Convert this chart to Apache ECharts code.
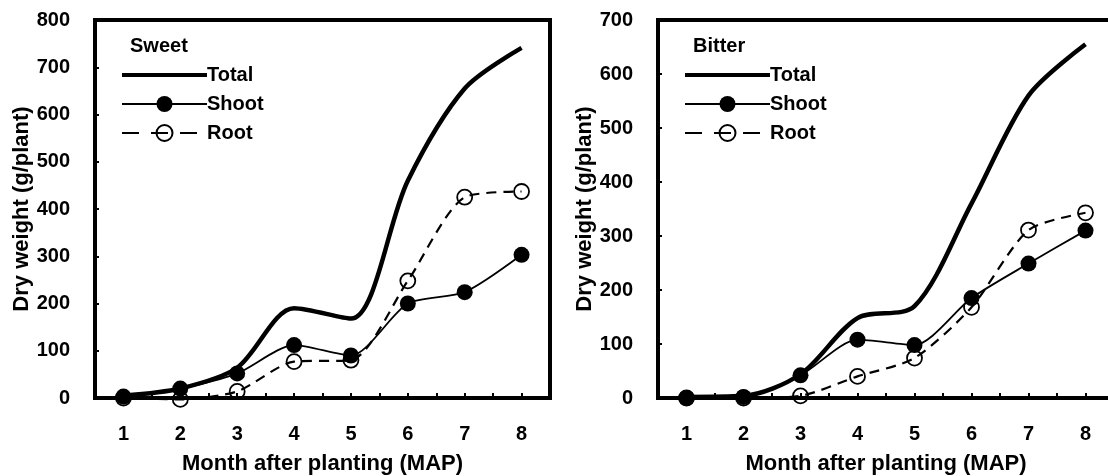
<!DOCTYPE html>
<html>
<head>
<meta charset="utf-8">
<script src="https://cdn.jsdelivr.net/npm/echarts@6/dist/echarts.min.js"></script>
<style>
    html, body { margin: 0; padding: 0; background: #fff; }
    #chart_div { width: 1108px; height: 476px; }
</style>
</head>
<body>
<div id="chart_div"></div>
<script>
// ----------- 数据 -----------
var month_list = [1, 2, 3, 4, 5, 6, 7, 8]
var series_names = ["Total", "Shoot", "Root"]

// Sweet
var sweet_total = [5, 20, 64, 190, 168, 460, 655, 741]
var sweet_shoot = [3, 20, 52, 112, 90, 200, 224, 303]
var sweet_root = [0, -3, 14, 77, 80, 248, 425, 437]

// Bitter
var bitter_total = [2, 4, 44, 148, 170, 360, 560, 655]
var bitter_shoot = [0, 2, 42, 108, 98, 185, 249, 310]
var bitter_root = [0, 0, 4, 40, 74, 168, 311, 343]

var font_name = "Liberation Sans, Arial, sans-serif"

function pair(values) {
    return values.map(function (v, i) { return [month_list[i], v] })
}

function make_x_axis(grid_index) {
    return {
        type: "value",
        gridIndex: grid_index,
        min: 0.5,
        max: 8.5,
        interval: 0.5,
        name: "Month after planting (MAP)",
        nameLocation: "middle",
        nameGap: 55,
        nameTextStyle: { fontFamily: font_name, fontWeight: "bold", fontSize: 22, color: "#000" },
        axisLine: { show: true, lineStyle: { color: "#000", width: 4 } },
        axisTick: { show: true, inside: true, length: 5, lineStyle: { color: "#000", width: 2 } },
        splitLine: { show: false },
        axisLabel: {
            margin: 26,
            fontFamily: font_name, fontWeight: "bold", fontSize: 20, color: "#000",
            showMinLabel: false, showMaxLabel: false,
            formatter: function (value) {
                if (value % 1 == 0) {
                    return value
                }
                return ""
            }
        }
    }
}

function make_y_axis(grid_index, max_value) {
    return {
        type: "value",
        gridIndex: grid_index,
        min: 0,
        max: max_value,
        interval: 100,
        name: "Dry weight (g/plant)",
        nameLocation: "middle",
        nameGap: 52,
        nameTextStyle: { fontFamily: font_name, fontWeight: "bold", fontSize: 22, color: "#000" },
        axisLine: { show: true, lineStyle: { color: "#000", width: 4 } },
        axisTick: { show: true, inside: true, length: 4, lineStyle: { color: "#000", width: 2 } },
        splitLine: { show: false },
        axisLabel: {
            margin: 25,
            fontFamily: font_name, fontWeight: "bold", fontSize: 20, color: "#000"
        }
    }
}

function make_series(index, total, shoot, root) {
    return [
        {
            name: "Total", type: "line", xAxisIndex: index, yAxisIndex: index,
            data: pair(total), smooth: 0.3, symbol: "none", z: 2, clip: false,
            lineStyle: { color: "#000", width: 4.5 },
            itemStyle: { color: "#000" }
        },
        {
            name: "Shoot", type: "line", xAxisIndex: index, yAxisIndex: index,
            data: pair(shoot), smooth: 0.25, symbol: "circle", symbolSize: 16, z: 4, clip: false,
            lineStyle: { color: "#000", width: 1.8 },
            itemStyle: { color: "#000" }
        },
        {
            name: "Root", type: "line", xAxisIndex: index, yAxisIndex: index,
            data: pair(root), smooth: 0.25, symbol: "circle", symbolSize: 15, z: 3, clip: false,
            lineStyle: { color: "#000", width: 2.2, type: [10, 7] },
            itemStyle: { color: "rgba(0,0,0,0)", borderColor: "#000", borderWidth: 1.8 }
        }
    ]
}

// 图例: 每项单独设置线宽
function make_legend(left_px) {
    return {
        orient: "vertical",
        left: left_px,
        top: 60,
        itemWidth: 85,
        itemHeight: 20,
        itemGap: 9,
        data: [
            { name: "Total", lineStyle: { color: "#000", width: 4 }, itemStyle: { color: "rgba(0,0,0,0)", borderWidth: 0 } },
            { name: "Shoot", lineStyle: { color: "#000", width: 2 } },
            { name: "Root", lineStyle: { color: "#000", width: 2.2, type: [17, 12] } }
        ],
        textStyle: { fontFamily: font_name, fontWeight: "bold", fontSize: 20, color: "#000", padding: [0, 0, 0, -5] },
        selectedMode: false
    }
}

var chart_div = echarts.init(document.getElementById("chart_div"), null, { renderer: "canvas" })

var option = {
    animation: false,
    backgroundColor: "#fff",
    title: [
        { text: "Sweet", left: 125, top: 31, textStyle: { fontFamily: font_name, fontWeight: "bold", fontSize: 20, color: "#000" } },
        { text: "Bitter", left: 688, top: 31, textStyle: { fontFamily: font_name, fontWeight: "bold", fontSize: 20, color: "#000" } }
    ],
    grid: [
        { left: 95, top: 20, width: 455, height: 378, outerBoundsMode: "none", show: true, borderColor: "#000", borderWidth: 4, backgroundColor: "transparent" },
        { left: 658, top: 20, width: 456, height: 378, outerBoundsMode: "none", show: true, borderColor: "#000", borderWidth: 4, backgroundColor: "transparent" }
    ],
    legend: [
        make_legend(115),
        make_legend(678)
    ],
    xAxis: [make_x_axis(0), make_x_axis(1)],
    yAxis: [make_y_axis(0, 800), make_y_axis(1, 700)],
    series: make_series(0, sweet_total, sweet_shoot, sweet_root)
        .concat(make_series(1, bitter_total, bitter_shoot, bitter_root))
}

chart_div.setOption(option)
</script>
</body>
</html>
